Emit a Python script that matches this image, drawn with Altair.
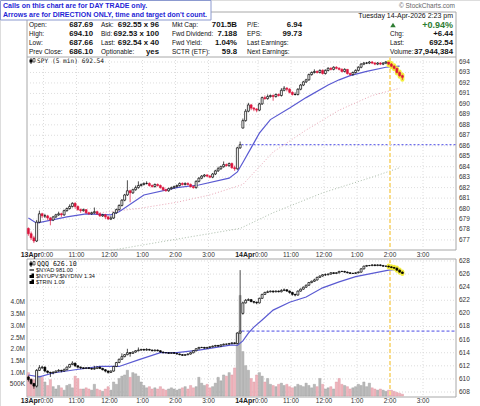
import altair as alt
import pandas as pd

# ---------------- data: 5-minute bars, 78 per session ----------------
BARS = 78

# SPY, session 13-Apr
spy_open_d1 = 678.1
spy_close_d1 = [677.6, 677.2, 676.9, 678.7, 679.5, 679.3, 679.3, 679.1, 678.9, 679.2,
                679.4, 679.5, 679.4, 679.8, 680.0, 680.2, 680.5, 680.2, 679.9, 679.8,
                679.9, 679.6, 679.5, 679.6, 679.7, 679.5, 679.3, 679.4, 679.2, 679.0,
                679.1, 679.6, 679.9, 680.3, 680.8, 681.3, 681.7, 681.5, 681.8, 682.0,
                682.2, 682.3, 682.4, 682.4, 682.2, 682.1, 682.3, 682.2, 682.0, 681.8,
                681.7, 681.9, 682.0, 682.1, 682.2, 682.4, 682.3, 682.4, 682.3, 682.1,
                682.0, 682.6, 682.9, 683.1, 683.2, 683.1, 683.0, 683.3, 683.6, 683.8,
                684.0, 684.2, 684.1, 684.3, 683.9, 683.8, 685.8, 686.1]
spy_high_d1 = [678.2, 677.8, 677.4, 678.9, 679.8, 679.6, 679.5, 679.4, 679.2, 679.3,
               679.5, 679.7, 679.6, 679.9, 680.1, 680.4, 680.6, 680.6, 680.3, 680.0,
               680.0, 679.9, 679.7, 679.7, 680.1, 679.8, 679.6, 679.5, 679.5, 679.3,
               679.3, 679.7, 680.0, 680.4, 680.9, 681.4, 682.7, 681.8, 681.9, 682.2,
               682.6, 682.4, 682.5, 682.6, 682.5, 682.3, 682.4, 682.4, 682.3, 682.1,
               681.9, 682.0, 682.1, 682.2, 682.3, 682.5, 682.5, 682.5, 682.5, 682.4,
               682.2, 682.7, 683.0, 683.2, 683.3, 683.3, 683.2, 683.4, 683.7, 684.0,
               684.1, 684.5, 684.3, 684.4, 684.4, 684.1, 685.9, 686.4]
spy_low_d1 = [677.4, 677.0, 676.7, 676.8, 678.6, 679.1, 679.1, 678.9, 678.4, 678.8,
              679.1, 679.3, 679.2, 679.3, 679.7, 679.9, 680.1, 680.0, 679.8, 679.6,
              679.7, 679.5, 679.4, 679.4, 679.5, 679.4, 679.2, 679.2, 679.0, 678.9,
              678.9, 679.0, 679.5, 679.8, 680.2, 680.7, 681.2, 680.6, 681.4, 681.7,
              681.9, 682.1, 682.2, 682.3, 682.1, 682.0, 682.0, 682.1, 681.9, 681.7,
              681.6, 681.6, 681.8, 681.9, 682.0, 682.1, 682.2, 682.2, 682.2, 682.0,
              681.9, 681.9, 682.5, 682.8, 683.0, 683.0, 682.9, 682.9, 683.2, 683.5,
              683.7, 683.9, 684.0, 684.0, 683.8, 683.6, 683.7, 685.7]

# SPY, session 14-Apr (to 2:20 pm)
spy_open_d2 = 687.69
spy_close_d2 = [688.4, 689.3, 689.9, 689.6, 689.5, 689.4, 690.0, 690.6, 690.5, 690.7,
                690.8, 690.7, 690.9, 690.8, 691.3, 691.5, 691.4, 691.1, 690.9, 690.9,
                691.4, 691.8, 692.1, 692.3, 692.8, 693.0, 693.1, 693.0, 693.2, 692.9,
                693.2, 693.4, 693.3, 693.5, 693.4, 693.3, 693.1, 693.3, 692.9, 692.8,
                693.0, 693.2, 693.5, 693.8, 693.9, 693.9, 694.0, 693.9, 693.8, 693.9,
                693.8, 693.9, 694.0, 693.8, 693.6, 693.4, 693.0, 692.7, 692.54]
spy_high_d2 = [688.6, 689.5, 690.1, 690.0, 689.7, 689.6, 690.1, 690.7, 690.8, 690.9,
               690.9, 690.9, 691.0, 691.0, 691.5, 691.7, 691.6, 691.5, 691.2, 691.1,
               691.5, 691.9, 692.2, 692.4, 692.9, 693.1, 693.3, 693.2, 693.3, 693.3,
               693.3, 693.5, 693.5, 693.6, 693.6, 693.5, 693.4, 693.4, 693.3, 693.0,
               693.1, 693.3, 693.6, 693.9, 694.0, 694.0, 694.1, 694.1, 694.0, 694.0,
               694.0, 694.0, 694.1, 694.0, 693.9, 693.7, 693.4, 693.1, 692.8]
spy_low_d2 = [687.66, 688.3, 689.2, 689.4, 689.3, 689.2, 689.3, 689.9, 690.4, 690.4,
              690.6, 690.3, 690.6, 690.7, 690.7, 691.2, 691.2, 691.0, 690.8, 690.8,
              690.8, 691.3, 691.7, 692.0, 692.2, 692.7, 692.9, 692.9, 692.9, 692.8,
              692.8, 693.1, 693.2, 693.2, 693.3, 693.2, 693.0, 693.0, 692.8, 692.7,
              692.7, 692.9, 693.1, 693.4, 693.7, 693.8, 693.8, 693.8, 693.7, 693.7,
              693.7, 693.7, 693.8, 693.7, 693.5, 693.3, 692.9, 692.6, 692.3]

# QQQ overlay
qqq_open_d1 = 610.3
qqq_close_d1 = [609.9, 609.3, 608.9, 611.3, 611.7, 611.8, 611.2, 611.0, 610.9, 611.0,
                611.2, 611.3, 611.2, 611.4, 611.8, 612.2, 612.4, 612.0, 611.8, 611.7,
                611.6, 611.7, 611.6, 611.5, 611.6, 611.8, 611.6, 611.4, 611.2, 611.0,
                611.2, 611.9, 612.5, 613.0, 613.4, 613.7, 614.0, 613.9, 614.1, 614.3,
                614.4, 614.5, 614.4, 614.5, 614.4, 614.3, 614.4, 614.3, 614.1, 614.0,
                614.0, 613.9, 614.0, 613.9, 613.8, 613.7, 613.6, 613.7, 613.8, 614.0,
                614.3, 614.6, 614.8, 614.8, 614.7, 614.8, 614.9, 615.0, 615.1, 615.0,
                615.2, 615.3, 615.3, 615.4, 615.5, 615.4, 617.0, 617.3]
qqq_high_d1 = [610.5, 610.0, 609.4, 611.5, 612.1, 612.0, 611.9, 611.3, 611.1, 611.2,
               611.3, 611.5, 611.4, 611.6, 611.9, 612.3, 612.7, 612.5, 612.1, 611.9,
               611.8, 611.8, 611.8, 611.7, 612.0, 611.9, 611.9, 611.7, 611.5, 611.3,
               611.3, 612.0, 612.6, 613.1, 613.9, 613.8, 614.6, 614.1, 614.2, 614.4,
               614.8, 614.6, 614.6, 614.7, 614.6, 614.5, 614.5, 614.5, 614.4, 614.2,
               614.1, 614.1, 614.1, 614.1, 614.0, 613.9, 613.8, 613.8, 613.9, 614.1,
               614.4, 614.7, 614.9, 614.9, 614.9, 614.9, 615.0, 615.1, 615.2, 615.2,
               615.3, 615.4, 615.4, 615.5, 615.6, 615.6, 617.1, 626.6]
qqq_low_d1 = [609.6, 609.1, 608.5, 608.7, 611.2, 611.5, 611.0, 610.8, 610.3, 610.7,
              610.9, 611.1, 611.0, 611.1, 611.3, 611.7, 612.1, 611.8, 611.6, 611.5,
              611.5, 611.5, 611.5, 611.4, 611.4, 611.5, 611.5, 611.3, 611.0, 610.8,
              610.9, 611.1, 611.8, 612.4, 612.9, 613.3, 613.6, 613.4, 613.8, 614.0,
              614.2, 614.3, 614.3, 614.3, 614.3, 614.2, 614.2, 614.2, 614.0, 613.9,
              613.9, 613.8, 613.8, 613.8, 613.7, 613.6, 613.5, 613.5, 613.6, 613.7,
              613.9, 614.2, 614.5, 614.7, 614.6, 614.6, 614.7, 614.8, 614.9, 614.9,
              614.9, 615.1, 615.2, 615.2, 615.3, 615.3, 615.3, 616.9]
qqq_open_d2 = 620.0
qqq_close_d2 = [621.6, 622.0, 622.1, 621.8, 621.7, 621.6, 622.3, 622.9, 623.2, 623.3,
                623.4, 623.3, 623.4, 623.3, 623.5, 623.6, 623.4, 623.2, 622.9, 622.8,
                623.4, 623.7, 624.0, 624.3, 624.7, 624.9, 625.1, 625.5, 625.7, 625.9,
                625.9, 626.0, 626.2, 626.1, 626.2, 626.4, 626.4, 626.3, 626.2, 626.1,
                626.1, 626.2, 626.3, 626.8, 627.2, 627.3, 627.3, 627.4, 627.3, 627.4,
                627.3, 627.2, 627.2, 627.1, 627.0, 626.9, 626.6, 626.3, 626.1]
qqq_high_d2 = [621.8, 622.2, 622.3, 622.2, 621.9, 621.8, 622.4, 623.0, 623.3, 623.5,
               623.5, 623.5, 623.5, 623.5, 623.7, 623.8, 623.7, 623.5, 623.3, 623.0,
               623.5, 623.8, 624.1, 624.4, 624.8, 625.0, 625.3, 625.6, 625.8, 626.0,
               626.1, 626.1, 626.3, 626.3, 626.3, 626.5, 626.5, 626.5, 626.4, 626.3,
               626.2, 626.3, 626.4, 626.9, 627.3, 627.4, 627.4, 627.5, 627.5, 627.5,
               627.5, 627.4, 627.3, 627.3, 627.2, 627.1, 627.0, 626.7, 626.4]
qqq_low_d2 = [619.8, 621.5, 621.9, 621.7, 621.5, 621.4, 621.5, 622.2, 622.8, 623.1,
              623.2, 623.1, 623.2, 623.2, 623.2, 623.4, 623.3, 623.0, 622.7, 622.6,
              622.7, 623.3, 623.6, 623.9, 624.2, 624.6, 624.8, 625.0, 625.4, 625.6,
              625.7, 625.8, 625.9, 626.0, 626.0, 626.1, 626.3, 626.2, 626.1, 626.0,
              626.0, 626.0, 626.1, 626.2, 626.7, 627.1, 627.2, 627.2, 627.2, 627.2,
              627.2, 627.1, 627.1, 627.0, 626.9, 626.8, 626.5, 626.2, 626.0]

# SPY volume per bar, millions of shares
vol_d1 = [1.0, 0.75, 0.7, 1.1, 0.85, 0.8, 0.6, 0.45, 0.7, 0.4,
          0.3, 0.45, 0.35, 0.25, 0.45, 0.5, 0.35, 0.85, 0.75, 0.3,
          0.3, 0.35, 0.3, 0.25, 0.5, 0.3, 0.25, 0.2, 0.3, 0.4,
          0.25, 0.6, 0.5, 0.75, 0.85, 0.9, 1.1, 0.8, 1.0, 0.95,
          0.85, 0.6, 0.45, 0.35, 0.4, 0.3, 0.35, 0.3, 0.4, 0.3,
          0.25, 0.3, 0.35, 0.3, 0.25, 0.3, 0.35, 0.4, 0.3, 0.45,
          0.35, 0.4, 0.8, 0.55, 0.45, 0.5, 0.35, 0.4, 0.55, 0.8,
          0.65, 0.9, 0.85, 1.0, 0.9, 1.2, 2.7, 4.3]
vol_d2 = [1.9, 1.3, 1.1, 0.75, 0.6, 0.9, 1.0, 0.85, 0.6, 0.75,
          0.5, 0.45, 0.4, 0.5, 0.55, 0.45, 0.5, 0.4, 0.35, 0.4,
          0.5, 0.45, 0.4, 0.55, 0.45, 0.35, 0.5, 0.4, 0.75, 0.5,
          0.3, 0.35, 0.4, 0.3, 0.6, 0.75, 0.5, 0.45, 0.4, 0.3,
          0.35, 0.4, 0.5, 0.45, 0.6, 0.4, 0.55, 0.35, 0.3, 0.25,
          0.3, 0.25, 0.2, 0.25, 0.25, 0.2, 0.15, 0.12, 0.08]

# moving-average overlays (bar index, value)
spy_ma_bar = [0, 3, 14, 21, 30, 33, 42, 54, 62, 73, 76, 78, 81, 84, 88, 95, 101, 109, 113, 117, 123, 130, 135]
spy_ma_val = [679.1, 678.6, 679.2, 679.5, 679.4, 679.7, 681.3, 682.0, 682.25, 682.9, 683.5, 684.4,
              685.8, 687.2, 688.5, 689.6, 690.6, 691.8, 692.3, 692.7, 693.1, 693.5, 693.6]
spy_ma2_bar = [26, 40, 54, 66, 78, 89, 101, 113, 125, 135]
spy_ma2_val = [679.6, 680.0, 680.6, 681.3, 682.3, 685.4, 687.5, 689.4, 690.8, 691.5]
spy_ma3_bar = [30, 50, 77, 89, 107, 125, 135]
spy_ma3_val = [676.0, 676.9, 678.1, 679.6, 681.5, 683.0, 683.9]
qqq_ma_bar = [0, 4, 9, 17, 26, 33, 40, 48, 54, 62, 74, 76, 78, 80, 82, 85, 89, 95, 101, 107, 113, 119, 125, 131, 134]
qqq_ma_val = [610.6, 610.3, 610.9, 611.4, 611.9, 611.9, 612.9, 614.0, 614.0, 614.4, 615.2, 615.1,
              615.8, 617.0, 617.9, 619.0, 620.5, 621.7, 622.5, 623.9, 624.8, 625.6, 626.1, 626.6, 626.7]

spy_prev_close = 686.10
qqq_prev_close = 617.3
highlight_from = 131          # bars after 2:00 pm on 14-Apr

# axis ticks
spy_ticks = list(range(677, 695))
qqq_ticks = list(range(608, 629, 2))
vol_ticks = [0.5, 1.0, 1.5, 2.0, 2.5, 3.0, 3.5, 4.0]
vol_tick_text = ["500K", "1.0M", "1.5M", "2.0M", "2.5M", "3.0M", "3.5M", "4.0M"]
grid_bars = [6, 18, 30, 42, 54, 66, 84, 96, 108, 120, 144]
label_bars = [18, 30, 42, 54, 66, 96, 108, 120, 132, 144]
label_text = ["11:00", "12:00", "1:00", "2:00", "3:00", "11:00", "12:00", "1:00", "2:00", "3:00"]
marker_bar = 132                # 2:00 pm, 14-Apr

# ---------------- scales ----------------
XS = alt.Scale(domain=[0, 2 * BARS], range=[27, 456], nice=False, zero=False)
UP = alt.Scale(domain=[676.04, 694.48], range=[250, 57], nice=False, zero=False)
LO = alt.Scale(domain=[607.24, 628.3], range=[397, 259], nice=False, zero=False)
VO = alt.Scale(domain=[0, 5.86], range=[396, 259], nice=False, zero=False)

FONT = "Liberation Sans"
RED = "#dc143c"
BLUE = "#5a5ad2"


def X(f):
    return alt.X(f"{f}:Q", scale=XS, axis=None)


def Y(f, sc):
    return alt.Y(f"{f}:Q", scale=sc, axis=None)


def PX(f="px"):
    return alt.X(f"{f}:Q", scale=None, axis=None)


def PY(f="py"):
    return alt.Y(f"{f}:Q", scale=None, axis=None)


one = pd.DataFrame({"a": [0]})


def ohlc(opens, closes, highs, lows):
    rows = []
    for d, (o0, cs, hs, ls) in enumerate(zip(opens, closes, highs, lows)):
        prev = o0
        for i, (c, h, l) in enumerate(zip(cs, hs, ls)):
            rows.append({"t": d * BARS + i + 0.5, "o": prev, "c": c, "h": h, "l": l})
            prev = c
    df = pd.DataFrame(rows)
    df["t0"] = df["t"] - 0.36
    df["t1"] = df["t"] + 0.36
    df["up"] = df["c"] >= df["o"]
    return df


spy = ohlc([spy_open_d1, spy_open_d2], [spy_close_d1, spy_close_d2],
           [spy_high_d1, spy_high_d2], [spy_low_d1, spy_low_d2])
qqq = ohlc([qqq_open_d1, qqq_open_d2], [qqq_close_d1, qqq_close_d2],
           [qqq_high_d1, qqq_high_d2], [qqq_low_d1, qqq_low_d2])

vol = pd.DataFrame({"t": spy["t"], "v": vol_d1 + vol_d2, "up": spy["up"]})
vol["t0"] = vol["t"] - 0.42
vol["t1"] = vol["t"] + 0.42


def line_df(bars, vals):
    return pd.DataFrame({"t": [b + 0.5 for b in bars], "v": vals})


layers = []

# panel frames
layers.append(alt.Chart(one).mark_rect(fill="white", stroke="#a8a8a8", strokeWidth=1).encode(
    x=alt.value(27), x2=alt.value(456), y=alt.value(12), y2=alt.value(250)))
layers.append(alt.Chart(one).mark_rule(color="#a8a8a8", strokeWidth=1).encode(
    x=alt.value(27), x2=alt.value(456), y=alt.value(57)))
layers.append(alt.Chart(one).mark_rect(fill="white", stroke="#a8a8a8", strokeWidth=1).encode(
    x=alt.value(27), x2=alt.value(456), y=alt.value(259), y2=alt.value(397)))

# grid
grid_kw = dict(color="#d4d4d4", strokeDash=[1, 2], strokeWidth=0.8)
layers.append(alt.Chart(pd.DataFrame({"v": spy_ticks})).mark_rule(**grid_kw).encode(
    y=Y("v", UP), x=alt.value(27), x2=alt.value(456)))
layers.append(alt.Chart(pd.DataFrame({"v": qqq_ticks})).mark_rule(**grid_kw).encode(
    y=Y("v", LO), x=alt.value(27), x2=alt.value(456)))
grid = pd.DataFrame({"t": grid_bars})
layers.append(alt.Chart(grid).mark_rule(**grid_kw).encode(
    x=X("t"), y=alt.value(57), y2=alt.value(250)))
layers.append(alt.Chart(grid).mark_rule(**grid_kw).encode(
    x=X("t"), y=alt.value(259), y2=alt.value(397)))

# volume bars
layers.append(alt.Chart(vol[vol.up]).mark_rect(fill="#b9b9b9", stroke="#9c9c9c", strokeWidth=0.4).encode(
    x=X("t0"), x2="t1", y=alt.Y("v:Q", scale=VO, axis=None), y2=alt.datum(0)))
layers.append(alt.Chart(vol[~vol.up]).mark_rect(fill="#f0b4bc", stroke="#d99aa4", strokeWidth=0.4).encode(
    x=X("t0"), x2="t1", y=alt.Y("v:Q", scale=VO, axis=None), y2=alt.datum(0)))

# dotted averages in the price panel
layers.append(alt.Chart(line_df(spy_ma3_bar, spy_ma3_val)).mark_line(
    color="#a9bca9", strokeDash=[1, 2], strokeWidth=1).encode(x=X("t"), y=Y("v", UP)))
layers.append(alt.Chart(line_df(spy_ma2_bar, spy_ma2_val)).mark_line(
    color="#eaa6b6", strokeDash=[1, 2], strokeWidth=1).encode(x=X("t"), y=Y("v", UP)))

# previous-close reference lines
layers.append(alt.Chart(pd.DataFrame({"a": [BARS], "b": [2 * BARS], "v": [spy_prev_close]})).mark_rule(
    color="#4a4ae6", strokeDash=[2, 2], strokeWidth=1).encode(x=X("a"), x2="b", y=Y("v", UP)))
layers.append(alt.Chart(pd.DataFrame({"a": [BARS], "b": [2 * BARS], "v": [qqq_prev_close]})).mark_rule(
    color="#4a4ae6", strokeDash=[3, 2], strokeWidth=1).encode(x=X("a"), x2="b", y=Y("v", LO)))

# 2:00 pm marker
mk = pd.DataFrame({"t": [marker_bar]})
for y0, y1 in [(57, 250), (259, 397)]:
    layers.append(alt.Chart(mk).mark_rule(color="#f9dc8a", strokeDash=[4, 2], strokeWidth=2).encode(
        x=X("t"), y=alt.value(y0), y2=alt.value(y1)))

# solid averages
layers.append(alt.Chart(line_df(spy_ma_bar, spy_ma_val)).mark_line(
    color=BLUE, strokeWidth=1.2).encode(x=X("t"), y=Y("v", UP)))
layers.append(alt.Chart(line_df(qqq_ma_bar, qqq_ma_val)).mark_line(
    color=BLUE, strokeWidth=1.2).encode(x=X("t"), y=Y("v", LO)))

# highlight of the latest bars
for df, sc in [(spy, UP), (qqq, LO)]:
    hl = df[df.t > highlight_from]
    layers.append(alt.Chart(hl).mark_rule(color="#f4ee3c", strokeWidth=4, strokeCap="round").encode(
        x=X("t"), y=Y("l", sc), y2="h"))


def candle_layers(df, sc, down_color, down_fill):
    out = []
    up, dn = df[df.up], df[~df.up]
    out.append(alt.Chart(up).mark_rule(color="black", strokeWidth=0.7).encode(x=X("t"), y=Y("l", sc), y2="h"))
    out.append(alt.Chart(dn).mark_rule(color=down_color, strokeWidth=0.7).encode(x=X("t"), y=Y("l", sc), y2="h"))
    out.append(alt.Chart(up).mark_rect(fill="white", stroke="black", strokeWidth=0.7).encode(
        x=X("t0"), x2="t1", y=Y("o", sc), y2="c"))
    out.append(alt.Chart(dn).mark_rect(fill=down_fill, stroke=down_color, strokeWidth=0.6).encode(
        x=X("t0"), x2="t1", y=Y("o", sc), y2="c"))
    return out


layers += candle_layers(spy, UP, RED, RED)
layers += candle_layers(qqq, LO, "black", "black")

# price / volume axis labels
lab_kw = dict(font=FONT, fontSize=6.5, color="#333333", baseline="middle")
layers.append(alt.Chart(pd.DataFrame({"v": spy_ticks, "s": [str(v) for v in spy_ticks]})).mark_text(
    align="left", **lab_kw).encode(x=alt.value(459), y=Y("v", UP), text="s:N"))
layers.append(alt.Chart(pd.DataFrame({"v": qqq_ticks, "s": [str(v) for v in qqq_ticks]})).mark_text(
    align="left", **lab_kw).encode(x=alt.value(459), y=Y("v", LO), text="s:N"))
layers.append(alt.Chart(pd.DataFrame({"v": vol_ticks, "s": vol_tick_text})).mark_text(
    align="right", **lab_kw).encode(x=alt.value(25), y=alt.Y("v:Q", scale=VO, axis=None), text="s:N"))

# time labels under each panel
tlabels = pd.DataFrame({"t": label_bars, "s": label_text})
for yy in [255, 401]:
    layers.append(alt.Chart(tlabels).mark_text(align="center", **lab_kw).encode(
        x=X("t"), y=alt.value(yy), text="s:N"))
    days = pd.DataFrame({"t": [6, 84], "s": ["13Apr", "14Apr"]})
    layers.append(alt.Chart(days).mark_text(align="right", dx=-3, font=FONT, fontSize=7,
                                            fontWeight="bold", color="#222222", baseline="middle").encode(
        x=X("t"), y=alt.value(yy), text="s:N"))
    layers.append(alt.Chart(pd.DataFrame({"t": [6, 84], "s": ["0:00", "0:00"]})).mark_text(
        align="left", dx=-3, **lab_kw).encode(x=X("t"), y=alt.value(yy), text="s:N"))


# ---------------- header ----------------
def text_layer(items, **kw):
    df = pd.DataFrame(items, columns=["s", "px", "py"])
    return alt.Chart(df).mark_text(baseline="middle", font=FONT, **kw).encode(
        x=PX(), y=PY(), text="s:N")


r1, r2, r3, r4 = 25, 34, 42.5, 51.5
layers.append(text_layer([
    ("Open:", 29, r1), ("High:", 29, r2), ("Low:", 29, r3), ("Prev Close:", 29, r4),
    ("Ask:", 101, r1), ("Bid:", 101, r2), ("Last:", 101, r3), ("Optionable:", 101, r4),
    ("Mkt Cap:", 172, r1), ("Fwd Dividend:", 172, r2), ("Fwd Yield:", 172, r3), ("SCTR (ETF):", 172, r4),
    ("P/E:", 247, r1), ("EPS:", 247, r2), ("Last Earnings:", 247, r3), ("Next Earnings:", 247, r4),
    ("Chg:", 390, r2), ("Last:", 390, r3), ("Volume:", 390, r4),
], align="left", fontSize=6.5, color="#111111"))
layers.append(text_layer([
    ("687.69", 93, r1), ("694.10", 93, r2), ("687.66", 93, r3), ("686.10", 93, r4),
    ("692.55 x 96", 159, r1), ("692.53 x 100", 159, r2), ("692.54 x 40", 159, r3), ("yes", 159, r4),
    ("701.5B", 237, r1), ("7.188", 237, r2), ("1.04%", 237, r3), ("59.8", 237, r4),
    ("6.94", 302, r1), ("99.73", 302, r2),
    ("+6.44", 453, r2), ("692.54", 453, r3), ("37,944,384", 453, r4),
], align="right", fontSize=7.8, fontWeight="bold", color="#111111"))
layers.append(text_layer([("+0.94%", 453, r1)], align="right", fontSize=9, fontWeight="bold", color="#2e7d32"))
layers.append(alt.Chart(one).mark_point(shape="triangle-up", filled=True, size=30, color="#2e7d32", opacity=1).encode(
    x=alt.value(393), y=alt.value(25)))
layers.append(text_layer([("Tuesday  14-Apr-2026  2:23 pm", 453, 16)], align="right", fontSize=7, color="#111111"))
layers.append(text_layer([("\u00a9 StockCharts.com", 455, 6)], align="right", fontSize=6.5, color="#666666"))

# notice box
layers.append(alt.Chart(one).mark_rect(fill="white", stroke="#8c9ad0", strokeWidth=1).encode(
    x=alt.value(0.5), x2=alt.value(211), y=alt.value(0.5), y2=alt.value(20)))
layers.append(text_layer([
    ("Calls on this chart are for DAY TRADE only.", 3, 5.5),
    ("Arrows are for DIRECTION ONLY, time and target don't count.", 3, 14.5),
], align="left", fontSize=7, fontWeight="bold", color="#1f1fd6"))

# legends
leg_kw = dict(font="DejaVu Sans Mono", baseline="middle", color="#111111", align="left")
layers.append(alt.Chart(pd.DataFrame({"s": ["SPY (5 min) 692.54"], "px": [37], "py": [61]})).mark_text(
    fontSize=6.2, **leg_kw).encode(x=PX(), y=PY(), text="s:N"))
layers.append(alt.Chart(pd.DataFrame({"s": ["QQQ 626.10"], "px": [37], "py": [264]})).mark_text(
    fontSize=6.6, **leg_kw).encode(x=PX(), y=PY(), text="s:N"))
layers.append(text_layer([("$NYAD 981.00", 36, 270), ("$NYUPV:$NYDNV 1.34", 36, 276), ("$TRIN 1.09", 36, 282)],
                         align="left", fontSize=5.6, color="#111111"))
# legend glyphs
for gy in [61, 264]:
    layers.append(alt.Chart(one).mark_rule(color="black", strokeWidth=0.8).encode(
        x=alt.value(31), y=alt.value(gy - 3), y2=alt.value(gy + 3)))
    layers.append(alt.Chart(one).mark_rect(color="black").encode(
        x=alt.value(29.5), x2=alt.value(32.5), y=alt.value(gy - 1.5), y2=alt.value(gy + 1.5)))
    layers.append(alt.Chart(one).mark_rect(fill="white", stroke="black", strokeWidth=0.6).encode(
        x=alt.value(33), x2=alt.value(35), y=alt.value(gy - 2.5), y2=alt.value(gy + 1)))
layers.append(alt.Chart(one).mark_rule(color="black", strokeWidth=1.2).encode(
    x=alt.value(29.5), x2=alt.value(34), y=alt.value(270)))
for gy in [276, 282]:
    layers.append(alt.Chart(one).mark_rect(color="black").encode(
        x=alt.value(29.5), x2=alt.value(34), y=alt.value(gy - 1), y2=alt.value(gy + 2)))
    layers.append(alt.Chart(one).mark_rect(color="black").encode(
        x=alt.value(31.5), x2=alt.value(34), y=alt.value(gy - 2.5), y2=alt.value(gy + 2)))

chart = alt.layer(*layers).resolve_scale(x="independent", y="independent").properties(
    width=480, height=406, autosize=alt.AutoSizeParams(type="none"), padding=0
).configure_view(strokeWidth=0).configure(background="white")

chart.save("out.html", embed_options={"renderer": "svg", "actions": False})
